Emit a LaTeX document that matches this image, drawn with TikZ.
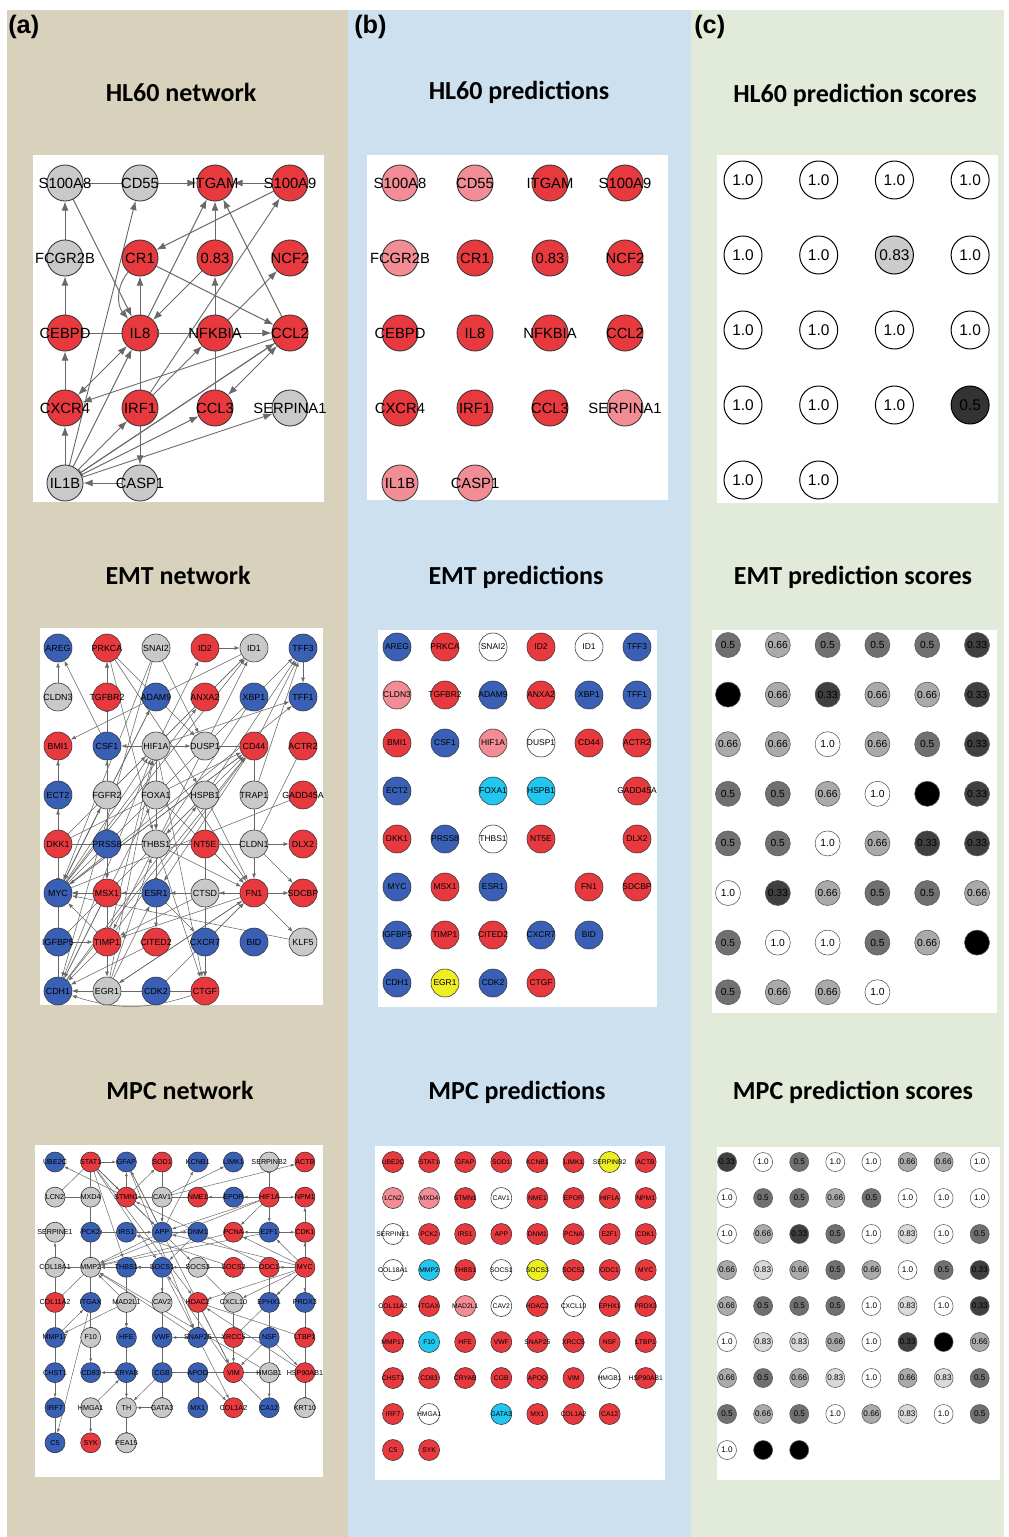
\documentclass[tikz,border=0pt]{standalone}
\usepackage{fontspec}
\setmainfont{Liberation Sans}
\newfontfamily\fonttitolo{Carlito}
\usepackage{tikz}
\usetikzlibrary{arrows.meta, positioning}

% colori di sfondo e dei nodi
\definecolor{fondoA}{RGB}{216,209,188}
\definecolor{fondoB}{RGB}{205,224,240}
\definecolor{fondoC}{RGB}{226,235,217}
\definecolor{rosso}{RGB}{232,57,63}
\definecolor{rosa}{RGB}{242,140,149}
\definecolor{blu}{RGB}{58,96,182}
\definecolor{grigio}{RGB}{201,201,201}
\definecolor{ciano}{RGB}{34,198,238}
\definecolor{giallo}{RGB}{238,238,34}
\definecolor{bianco}{RGB}{255,255,255}
\definecolor{arco}{RGB}{105,105,105}
% scala dei punteggi
\definecolor{v100}{RGB}{255,255,255}
\definecolor{v83}{RGB}{218,218,218}
\definecolor{v66}{RGB}{170,170,170}
\definecolor{v50}{RGB}{112,112,112}
\definecolor{v33}{RGB}{64,64,64}
\definecolor{v0}{RGB}{0,0,0}
\definecolor{h83}{RGB}{204,204,204}
\definecolor{h50}{RGB}{51,51,51}

\def\vuoto{-}

\pgfdeclarelayer{sfondo}
\pgfdeclarelayer{archi}
\pgfsetlayers{sfondo,archi,main}

\tikzset{
  gene/.style={circle, draw=black!80, line width=0.4pt, inner sep=0pt, text=black},
  geneHL/.style={gene, line width=0.6pt, minimum size=0.9cm, font=\fontsize{10.5}{12}\selectfont},
  geneEMT/.style={gene, minimum size=0.7cm, font=\fontsize{6.3}{7}\selectfont},
  genePRE/.style={gene, minimum size=0.7cm, font=\fontsize{6}{7}\selectfont},
  geneMPC/.style={gene, minimum size=0.5cm, font=\fontsize{5.1}{6}\selectfont},
  genePMP/.style={gene, minimum size=0.525cm, font=\fontsize{4.8}{6}\selectfont},
  puntoHL/.style={gene, draw=black, line width=0.7pt, minimum size=0.95cm, font=\fontsize{11}{12}\selectfont},
  puntoEMT/.style={gene, draw=black!65, minimum size=0.625cm, font=\fontsize{7.3}{8}\selectfont},
  puntoMPC/.style={gene, draw=black!65, minimum size=0.475cm, font=\fontsize{5.8}{7}\selectfont},
  titolo/.style={font=\fonttitolo\bfseries\fontsize{18.5}{20}\selectfont},
  pannello/.style={font=\bfseries\fontsize{18}{20}\selectfont, anchor=west, inner sep=0pt},
  freccia/.style={draw=arco, -{Latex[scale=#1]}},
  freccia/.default=1,
  doppia/.style={draw=arco, {Latex[scale=#1]}-{Latex[scale=#1]}},
  doppia/.default=1,
  blocco/.style={draw=arco, -{Bar[scale=#1]}},
  blocco/.default=1,
  linea/.style={draw=arco},
}

\begin{document}
\begin{tikzpicture}[x=0.025cm, y=-0.025cm]
    \useasboundingbox (0,0) rectangle (1008,1537);

    % ==========================================
    % 0. SFONDI E RIQUADRI
    % ==========================================
    \begin{pgfonlayer}{sfondo}
        \fill[white] (0,0) rectangle (1008,1537);
        \fill[fondoA] (7,10) rectangle (348,1537);
        \fill[fondoB] (348,10) rectangle (691,1537);
        \fill[fondoC] (691,10) rectangle (1004,1537);
        % riquadri bianchi
        \fill[white] (33,155) rectangle (324,502);
        \fill[white] (367,155) rectangle (668,500);
        \fill[white] (717,155) rectangle (998,503);
        \fill[white] (40,628) rectangle (323,1005);
        \fill[white] (378,630) rectangle (657,1007);
        \fill[white] (712,630) rectangle (997,1013);
        \fill[white] (35,1145) rectangle (323,1477);
        \fill[white] (375,1146) rectangle (665,1480);
        \fill[white] (717,1147) rectangle (1000,1480);
    \end{pgfonlayer}

    % etichette dei pannelli e titoli
    \node[pannello] (etA) at (8,27) {(a)};
    \node[pannello] (etB) at (354,27) {(b)};
    \node[pannello] (etC) at (694,27) {(c)};

    \node[titolo] (titHLrete) at (181,92) {HL60 network};
    \node[titolo] (titHLpred) at (519,92) {HL60 predictions};
    \node[titolo] (titHLpunt) at (855,95) {HL60 prediction scores};
    \node[titolo] (titEMTrete) at (178,575) {EMT network};
    \node[titolo] (titEMTpred) at (516,577) {EMT predictions};
    \node[titolo] (titEMTpunt) at (853,577) {EMT prediction scores};
    \node[titolo] (titMPCrete) at (180,1090) {MPC network};
    \node[titolo] (titMPCpred) at (517,1092) {MPC predictions};
    \node[titolo] (titMPCpunt) at (853,1092) {MPC prediction scores};

    % ==========================================
    % 1. HL60
    % ==========================================

    % Rete
    \foreach \riga [count=\nr] in {
        {S100A8/S100A8/grigio, CD55/CD55/grigio, ITGAM/ITGAM/rosso, S100A9/S100A9/rosso},
        {FCGR2B/FCGR2B/grigio, CR1/CR1/rosso, P083/0.83/rosso, NCF2/NCF2/rosso},
        {CEBPD/CEBPD/rosso, IL8/IL8/rosso, NFKBIA/NFKBIA/rosso, CCL2/CCL2/rosso},
        {CXCR4/CXCR4/rosso, IRF1/IRF1/rosso, CCL3/CCL3/rosso, SERPINA1/SERPINA1/grigio},
        {IL1B/IL1B/grigio, CASP1/CASP1/grigio}}{
        \foreach \nome/\testo/\col [count=\nc] in \riga {
            \node[geneHL, fill=\col] (hn\nome) at ({65+(\nc-1)*75},{183+(\nr-1)*75}) {\makebox[0pt]{\testo}};
        }
    }

    \begin{pgfonlayer}{archi}
    \begin{scope}[line width=0.65pt]
        \foreach \sor/\des in {FCGR2B/S100A8, CEBPD/FCGR2B, CXCR4/CEBPD, IL1B/CXCR4, CASP1/IL1B,
            IRF1/CASP1, CD55/ITGAM, S100A9/ITGAM, IL8/CR1, IL8/ITGAM, P083/ITGAM, CCL2/ITGAM,
            S100A9/CR1, P083/IL8, NFKBIA/P083, NFKBIA/NCF2, NFKBIA/CCL2, CR1/CCL2, S100A8/IL8,
            CCL2/CXCR4, IL1B/IL8, IL1B/CD55, IL1B/IRF1, IL1B/CCL3, IL1B/SERPINA1, IL1B/CCL2,
            IRF1/NFKBIA, IRF1/S100A9}
            \draw[freccia=1.1] (hn\sor) -- (hn\des);
        \foreach \sor/\des in {NFKBIA/IL8, CCL2/IL1B}
            \draw[blocco=1.1] (hn\sor) -- (hn\des);
        \foreach \sor/\des in {S100A8/CD55, CEBPD/IL8, NFKBIA/CCL3, IL8/IRF1}
            \draw[linea] (hn\sor) -- (hn\des);
        \foreach \sor/\des in {CXCR4/IL8, CCL3/CCL2}
            \draw[doppia=1.1] (hn\sor) -- (hn\des);
        \draw[freccia=1.1] (hnCR1) to[bend right=40] (hnIL8);
    \end{scope}
    \end{pgfonlayer}

    % Predizioni
    \foreach \riga [count=\nr] in {
        {S100A8/S100A8/rosa, CD55/CD55/rosa, ITGAM/ITGAM/rosso, S100A9/S100A9/rosso},
        {FCGR2B/FCGR2B/rosa, CR1/CR1/rosso, P083/0.83/rosso, NCF2/NCF2/rosso},
        {CEBPD/CEBPD/rosso, IL8/IL8/rosso, NFKBIA/NFKBIA/rosso, CCL2/CCL2/rosso},
        {CXCR4/CXCR4/rosso, IRF1/IRF1/rosso, CCL3/CCL3/rosso, SERPINA1/SERPINA1/rosa},
        {IL1B/IL1B/rosa, CASP1/CASP1/rosa}}{
        \foreach \nome/\testo/\col [count=\nc] in \riga {
            \node[geneHL, fill=\col] (hp\nome) at ({400+(\nc-1)*75},{183+(\nr-1)*75}) {\makebox[0pt]{\testo}};
        }
    }

    % Punteggi
    \foreach \riga [count=\nr] in {
        {v100/1.0, v100/1.0, v100/1.0, v100/1.0},
        {v100/1.0, v100/1.0, h83/0.83, v100/1.0},
        {v100/1.0, v100/1.0, v100/1.0, v100/1.0},
        {v100/1.0, v100/1.0, v100/1.0, h50/0.5},
        {v100/1.0, v100/1.0}}{
        \foreach \col/\testo [count=\nc] in \riga {
            \node[puntoHL, fill=\col] (hs-\nr-\nc) at ({743+(\nc-1)*75.7},{180+(\nr-1)*75}) {\testo};
        }
    }

    % ==========================================
    % 2. EMT
    % ==========================================

    % Rete
    \foreach \riga [count=\nr] in {
        {AREG/blu, PRKCA/rosso, SNAI2/grigio, ID2/rosso, ID1/grigio, TFF3/blu},
        {CLDN3/grigio, TGFBR2/rosso, ADAM9/blu, ANXA2/rosso, XBP1/blu, TFF1/blu},
        {BMI1/rosso, CSF1/blu, HIF1A/grigio, DUSP1/grigio, CD44/rosso, ACTR2/rosso},
        {ECT2/blu, FGFR2/grigio, FOXA1/grigio, HSPB1/grigio, TRAP1/grigio, GADD45A/rosso},
        {DKK1/rosso, PRSS8/blu, THBS1/grigio, NT5E/rosso, CLDN1/grigio, DLX2/rosso},
        {MYC/blu, MSX1/rosso, ESR1/blu, CTSD/grigio, FN1/rosso, SDCBP/rosso},
        {IGFBP5/blu, TIMP1/rosso, CITED2/rosso, CXCR7/blu, BID/blu, KLF5/grigio},
        {CDH1/blu, EGR1/grigio, CDK2/blu, CTGF/rosso}}{
        \foreach \nome/\col [count=\nc] in \riga {
            \node[geneEMT, fill=\col] (e\nome) at ({58+(\nc-1)*49},{648+(\nr-1)*49}) {\makebox[0pt]{\nome}};
        }
    }

    \begin{pgfonlayer}{archi}
    \begin{scope}[line width=0.4pt]
        \foreach \sor/\des in {ID2/ID1, HIF1A/ID2, TFF3/TFF1, CLDN3/AREG, CSF1/AREG, TGFBR2/PRKCA,
            CSF1/PRKCA, PRSS8/PRKCA, HIF1A/CSF1, HIF1A/DUSP1, PRKCA/DUSP1, FGFR2/CSF1, DKK1/ECT2,
            ID1/BMI1, MYC/BMI1, PRSS8/MSX1, MSX1/MYC, ESR1/MSX1, CTSD/ESR1, FN1/CTSD, FN1/SDCBP,
            CLDN1/DLX2, CLDN1/FN1, CLDN1/SDCBP, FN1/KLF5, IGFBP5/TIMP1, TIMP1/EGR1, EGR1/CDH1,
            TIMP1/CDH1, CITED2/CDH1, ESR1/CITED2, ESR1/CXCR7, CXCR7/CTGF, CXCR7/FN1, CDK2/FN1,
            THBS1/CTGF, HIF1A/CTGF, HSPB1/CTGF, MYC/ID1, MYC/TFF3, MYC/CD44, MYC/HIF1A, MYC/ANXA2,
            MYC/ADAM9, MYC/TFF1, THBS1/ID1, HIF1A/ID1, FGFR2/ID1, CD44/TFF3, HSPB1/TFF3, TRAP1/TFF3,
            CDH1/CD44, CDH1/HSPB1, CDH1/HIF1A, CDH1/FOXA1, IGFBP5/CD44, TIMP1/CD44, TIMP1/HIF1A,
            EGR1/HIF1A, EGR1/THBS1, EGR1/FN1, EGR1/ESR1, HIF1A/TFF1, HIF1A/FN1, FOXA1/FN1, NT5E/FN1,
            HSPB1/FN1, THBS1/FN1, DKK1/HIF1A, DKK1/CD44, MYC/FGFR2, HIF1A/THBS1, HSPB1/THBS1,
            FOXA1/THBS1, PRKCA/THBS1, PRKCA/HSPB1, SNAI2/CDH1, SNAI2/MYC, ADAM9/MYC, TGFBR2/MSX1,
            THBS1/TIMP1, MSX1/CDH1, CDK2/CDH1, TIMP1/MYC, ESR1/MYC, CTSD/MYC, KLF5/MYC, FN1/MYC,
            FN1/TIMP1, FN1/EGR1, CTSD/TIMP1, CD44/ESR1, CD44/MYC, SNAI2/DUSP1}
            \draw[freccia=0.75] (e\sor) -- (e\des);
        \foreach \sor/\des in {DKK1/MYC, CSF1/TGFBR2, FGFR2/PRSS8, THBS1/ESR1, THBS1/XBP1,
            CLDN1/ACTR2, MYC/GADD45A, FOXA1/HIF1A}
            \draw[blocco=0.75] (e\sor) -- (e\des);
        \foreach \sor/\des in {ECT2/BMI1, CDK2/EGR1, CTGF/CDK2, DUSP1/CD44, TRAP1/CD44, TRAP1/CLDN1,
            NT5E/CLDN1, DKK1/PRSS8, PRSS8/THBS1, THBS1/NT5E, MYC/IGFBP5, IGFBP5/CDH1, MSX1/TIMP1}
            \draw[linea] (e\sor) -- (e\des);
        \draw[freccia=0.75] (eCTGF) to[bend left=18] (eCDH1);
    \end{scope}
    \end{pgfonlayer}

    % Predizioni
    \foreach \riga [count=\nr] in {
        {AREG/blu, PRKCA/rosso, SNAI2/bianco, ID2/rosso, ID1/bianco, TFF3/blu},
        {CLDN3/rosa, TGFBR2/rosso, ADAM9/blu, ANXA2/rosso, XBP1/blu, TFF1/blu},
        {BMI1/rosso, CSF1/blu, HIF1A/rosa, DUSP1/bianco, CD44/rosso, ACTR2/rosso},
        {ECT2/blu, -/-, FOXA1/ciano, HSPB1/ciano, -/-, GADD45A/rosso},
        {DKK1/rosso, PRSS8/blu, THBS1/bianco, NT5E/rosso, -/-, DLX2/rosso},
        {MYC/blu, MSX1/rosso, ESR1/blu, -/-, FN1/rosso, SDCBP/rosso},
        {IGFBP5/blu, TIMP1/rosso, CITED2/rosso, CXCR7/blu, BID/blu},
        {CDH1/blu, EGR1/giallo, CDK2/blu, CTGF/rosso}}{
        \foreach \nome/\col [count=\nc] in \riga {
            \edef\cella{\nome}
            \ifx\cella\vuoto\else
            \node[genePRE, fill=\col] (ep\nome) at ({397+(\nc-1)*48},{647+(\nr-1)*48}) {\makebox[0pt]{\nome}};
            \fi
        }
    }

    % Punteggi
    \foreach \riga [count=\nr] in {
        {v50/0.5, v66/0.66, v50/0.5, v50/0.5, v50/0.5, v33/0.33},
        {v0/{}, v66/0.66, v33/0.33, v66/0.66, v66/0.66, v33/0.33},
        {v66/0.66, v66/0.66, v100/1.0, v66/0.66, v50/0.5, v33/0.33},
        {v50/0.5, v50/0.5, v66/0.66, v100/1.0, v0/{}, v33/0.33},
        {v50/0.5, v50/0.5, v100/1.0, v66/0.66, v33/0.33, v33/0.33},
        {v100/1.0, v33/0.33, v66/0.66, v50/0.5, v50/0.5, v66/0.66},
        {v50/0.5, v100/1.0, v100/1.0, v50/0.5, v66/0.66, v0/{}},
        {v50/0.5, v66/0.66, v66/0.66, v100/1.0}}{
        \foreach \col/\testo [count=\nc] in \riga {
            \node[puntoEMT, fill=\col] (es-\nr-\nc) at ({728+(\nc-1)*49.8},{645+(\nr-1)*49.6}) {\testo};
        }
    }

    % ==========================================
    % 3. MPC
    % ==========================================

    % Rete
    \foreach \riga [count=\nr] in {
        {UBE2C/blu, STAT1/rosso, GFAP/blu, SOD1/rosso, KCNB1/blu, LIMK1/blu, SERPINB2/grigio, ACTB/rosso},
        {LCN2/grigio, MXD4/grigio, STMN1/rosso, CAV1/grigio, NME1/rosso, EPOR/blu, HIF1A/rosso, NPM1/rosso},
        {SERPINE1/grigio, PCK2/blu, IRS1/blu, APP/blu, DNM1/blu, PCNA/rosso, E2F1/blu, CDK1/rosso},
        {COL18A1/grigio, MMP2/grigio, THBS1/blu, SOCS1/blu, SOCS3/grigio, SOCS2/rosso, ODC1/rosso, MYC/rosso},
        {COL11A2/rosso, ITGAX/blu, MAD2L1/grigio, CAV2/grigio, HDAC2/rosso, CXCL10/grigio, EPHX1/blu, PRDX3/blu},
        {MMP17/blu, F10/grigio, HFE/blu, VWF/blu, SNAP25/blu, XRCC5/rosso, NSF/blu, LTBP1/rosso},
        {CHST1/blu, CD83/blu, CRYAB/blu, CGB/blu, APOD/blu, VIM/rosso, HMGB1/grigio, HSP90AB1/rosso},
        {IRF7/blu, HMGA1/grigio, TH/grigio, GATA3/grigio, MX1/blu, COL1A2/rosso, CA12/blu, KRT10/grigio},
        {C5/blu, SYK/rosso, PEA15/grigio}}{
        \foreach \nome/\col [count=\nc] in \riga {
            \node[geneMPC, fill=\col] (m\nome) at ({55+(\nc-1)*35.7},{1162+(\nr-1)*35.1}) {\makebox[0pt]{\nome}};
        }
    }

    \begin{pgfonlayer}{archi}
    \begin{scope}[line width=0.35pt]
        \foreach \sor/\des in {HIF1A/NPM1, HIF1A/EPOR, HIF1A/NME1, HIF1A/E2F1, E2F1/PCNA, MYC/CDK1,
            MYC/ODC1, MYC/PRDX3, MYC/PCNA, MYC/E2F1, MYC/HDAC2, MYC/EPHX1, MYC/NPM1, MYC/MMP2,
            MYC/THBS1, MYC/APP, MYC/CXCL10, HIF1A/MMP2, HIF1A/APP, HIF1A/PCNA, HIF1A/STMN1,
            SOCS3/SOCS1, SOCS1/THBS1, THBS1/MMP2, COL18A1/SERPINE1, CHST1/IRF7, CRYAB/CD83,
            CRYAB/TH, HMGA1/CRYAB, HMGA1/SYK, GATA3/TH, SNAP25/VWF, HMGB1/CA12, NSF/HSP90AB1,
            HDAC2/VIM, SOCS3/CXCL10, CAV1/STMN1, APP/KCNB1, APP/GFAP, STAT1/GFAP, STAT1/APP,
            STAT1/SOCS1, STAT1/THBS1, STAT1/STMN1, STAT1/SOCS3, STAT1/HDAC2, SOD1/APP, GFAP/SNAP25,
            GFAP/VIM, STMN1/GFAP, STMN1/SOD1, CAV1/LIMK1, CAV1/ACTB, CAV1/APP, APP/MMP2, APP/DNM1,
            DNM1/SOCS1, IRS1/APP, PCNA/MMP2, E2F1/CDK1, E2F1/MMP2, ODC1/STMN1, SOCS2/IRS1,
            SOCS1/CAV2, SOCS1/SNAP25, MAD2L1/HFE, MAD2L1/MMP2, CXCL10/VIM, SNAP25/COL1A2,
            APOD/COL1A2, CGB/TH, F10/CD83, ITGAX/C5, MMP17/ITGAX, MAD2L1/MMP17, THBS1/HFE,
            SOCS3/MMP2, SNAP25/MMP2, VIM/SOCS1, HMGB1/MMP2, NSF/VIM, HSP90AB1/HDAC2, STMN1/UBE2C}
            \draw[freccia=0.6] (m\sor) -- (m\des);
        \foreach \sor/\des in {HIF1A/SERPINB2, APOD/MX1, TH/PEA15, MYC/KRT10, HDAC2/LTBP1,
            HDAC2/SNAP25, EPHX1/NSF, PCK2/MMP2, IRS1/PCK2, MMP2/COL11A2, MMP2/F10, MYC/XRCC5,
            SOCS1/GATA3}
            \draw[blocco=0.6] (m\sor) -- (m\des);
        \foreach \sor/\des in {COL18A1/MMP2, COL11A2/MMP17, MMP17/CHST1, IRF7/C5, HFE/CRYAB,
            APOD/VIM, VIM/HMGB1, NSF/HMGB1, XRCC5/SNAP25, XRCC5/NSF, ODC1/EPHX1, ITGAX/PCK2,
            MXD4/PCK2, LCN2/MXD4, SOCS2/ODC1, CGB/APOD, STAT1/MXD4, STAT1/LCN2, CA12/VIM,
            COL18A1/COL11A2}
            \draw[linea] (m\sor) -- (m\des);
    \end{scope}
    \end{pgfonlayer}

    % Predizioni
    \foreach \riga [count=\nr] in {
        {UBE2C/rosso, STAT1/rosso, GFAP/rosso, SOD1/rosso, KCNB1/rosso, LIMK1/rosso, SERPINB2/giallo, ACTB/rosso},
        {LCN2/rosa, MXD4/rosa, STMN1/rosso, CAV1/bianco, NME1/rosso, EPOR/rosso, HIF1A/rosso, NPM1/rosso},
        {SERPINE1/bianco, PCK2/rosso, IRS1/rosso, APP/rosso, DNM1/rosso, PCNA/rosso, E2F1/rosso, CDK1/rosso},
        {COL18A1/bianco, MMP2/ciano, THBS1/rosso, SOCS1/bianco, SOCS3/giallo, SOCS2/rosso, ODC1/rosso, MYC/rosso},
        {COL11A2/rosso, ITGAX/rosso, MAD2L1/rosa, CAV2/bianco, HDAC2/rosso, CXCL10/bianco, EPHX1/rosso, PRDX3/rosso},
        {MMP17/rosso, F10/ciano, HFE/rosso, VWF/rosso, SNAP25/rosso, XRCC5/rosso, NSF/rosso, LTBP1/rosso},
        {CHST1/rosso, CD83/rosso, CRYAB/rosso, CGB/rosso, APOD/rosso, VIM/rosso, HMGB1/bianco, HSP90AB1/rosso},
        {IRF7/rosso, HMGA1/bianco, -/-, GATA3/ciano, MX1/rosso, COL1A2/rosso, CA12/rosso},
        {C5/rosso, SYK/rosso}}{
        \foreach \nome/\col [count=\nc] in \riga {
            \edef\cella{\nome}
            \ifx\cella\vuoto\else
            \node[genePMP, fill=\col] (mp\nome) at ({393+(\nc-1)*36.1},{1162+(\nr-1)*36}) {\makebox[0pt]{\nome}};
            \fi
        }
    }

    % Punteggi
    \foreach \riga [count=\nr] in {
        {v33/0.33, v100/1.0, v50/0.5, v100/1.0, v100/1.0, v66/0.66, v66/0.66, v100/1.0},
        {v100/1.0, v50/0.5, v50/0.5, v66/0.66, v50/0.5, v100/1.0, v100/1.0, v100/1.0},
        {v100/1.0, v66/0.66, v33/0.33, v50/0.5, v100/1.0, v83/0.83, v100/1.0, v50/0.5},
        {v66/0.66, v83/0.83, v66/0.66, v50/0.5, v66/0.66, v100/1.0, v50/0.5, v33/0.33},
        {v66/0.66, v50/0.5, v50/0.5, v50/0.5, v100/1.0, v83/0.83, v100/1.0, v33/0.33},
        {v100/1.0, v83/0.83, v83/0.83, v66/0.66, v100/1.0, v33/0.33, v0/{}, v66/0.66},
        {v66/0.66, v50/0.5, v66/0.66, v83/0.83, v100/1.0, v66/0.66, v83/0.83, v50/0.5},
        {v50/0.5, v66/0.66, v50/0.5, v100/1.0, v66/0.66, v83/0.83, v100/1.0, v50/0.5},
        {v100/1.0, v0/{}, v0/{}}}{
        \foreach \col/\testo [count=\nc] in \riga {
            \node[puntoMPC, fill=\col] (ms-\nr-\nc) at ({727+(\nc-1)*36.1},{1162+(\nr-1)*36}) {\testo};
        }
    }

\end{tikzpicture}
\end{document}
